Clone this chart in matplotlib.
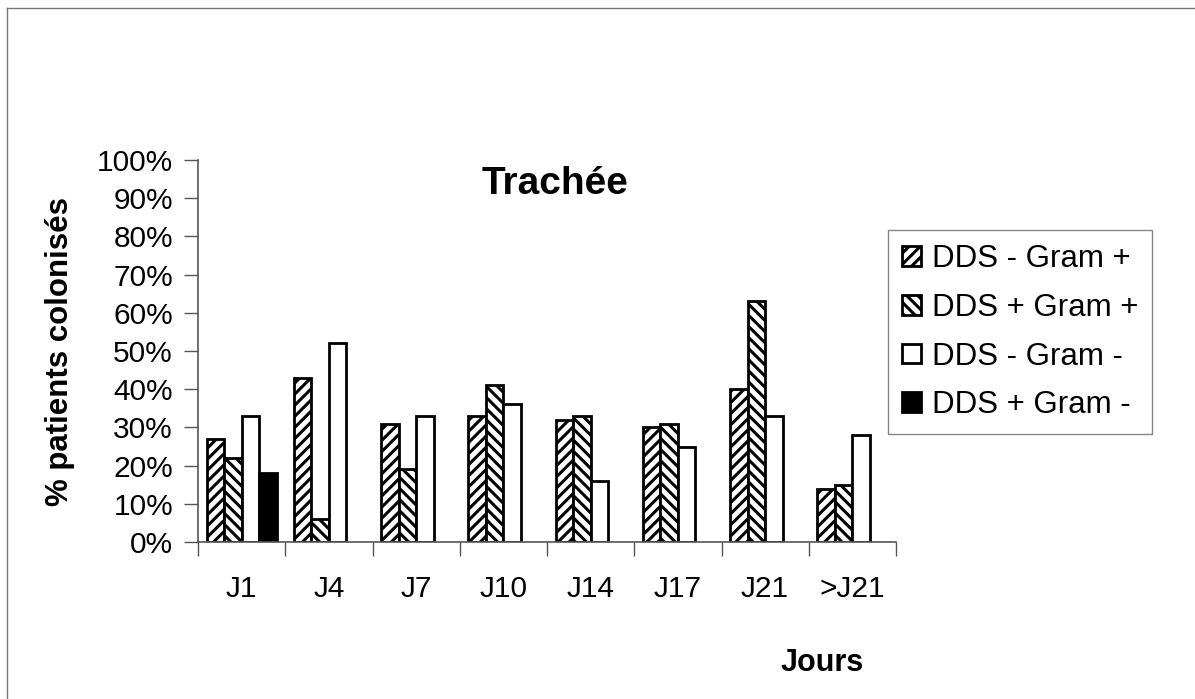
import numpy as np
import matplotlib
matplotlib.use("Agg")
import matplotlib.pyplot as plt
from matplotlib.ticker import PercentFormatter
from matplotlib.lines import Line2D

plt.rcParams['font.family'] = ['Liberation Sans', 'DejaVu Sans']
plt.rcParams['hatch.linewidth'] = 2.2

# donnees
jours = ["J1", "J4", "J7", "J10", "J14", "J17", "J21", ">J21"]
series = ["DDS - Gram +", "DDS + Gram +", "DDS - Gram -", "DDS + Gram -"]
dds_moins_gpos = [27, 43, 31, 33, 32, 30, 40, 14]
dds_plus_gpos = [22, 6, 19, 41, 33, 31, 63, 15]
dds_moins_gneg = [33, 52, 33, 36, 16, 25, 33, 28]
dds_plus_gneg = [18, 0, 0, 0, 0, 0, 0, 0]

valeurs = [dds_moins_gpos, dds_plus_gpos, dds_moins_gneg, dds_plus_gneg]
couleurs = ["white", "white", "white", "black"]
hachures = ["///", "\\\\\\", None, None]

W, H = 1195, 699
fig = plt.figure(figsize=(W / 100, H / 100), dpi=100)
ax = fig.add_axes([198 / W, 1 - 542 / H, (896 - 198) / W, (542 - 160) / H])

x = np.arange(len(jours))
lb = 1 / 5
handles = []
for i, (vals, c, h, nom) in enumerate(zip(valeurs, couleurs, hachures, series)):
    pos = x - 2 * lb + (i + 0.5) * lb
    v = np.array(vals) / 100
    bars = ax.bar(pos[v > 0], v[v > 0], width=lb, color=c, edgecolor="black",
                  hatch=h, linewidth=2, label=nom)
    handles.append(bars)

ax.set_xlim(-0.5, len(jours) - 0.5)
ax.set_ylim(0, 1)
ax.yaxis.set_major_formatter(PercentFormatter(1.0, decimals=0))
ax.set_yticks(np.arange(0, 1.01, 0.1))
ax.set_xticks(np.arange(-0.5, len(jours)), minor=False)
ax.set_xticklabels([])
ax.set_xticks(x, minor=True)
ax.set_xticklabels(jours, minor=True)
ax.tick_params(axis="x", which="minor", length=0, pad=24, labelsize=21.5)
ax.tick_params(axis="x", which="major", length=10, width=1, color="#555555", direction="out")
ax.tick_params(axis="y", length=10, width=1, color="#555555", pad=8, labelsize=21.5)
for s in ["top", "right"]:
    ax.spines[s].set_visible(False)
for s in ["left", "bottom"]:
    ax.spines[s].set_color("#555555")
    ax.spines[s].set_linewidth(1.2)

fig.text(555 / W, 1 - 184 / H, "Trachée", ha="center", va="center",
         fontsize=28, fontweight="bold")
fig.text(60 / W, 1 - 351 / H, "% patients colonisés", ha="center", va="center",
         rotation=90, fontsize=22.5, fontweight="bold")
fig.text(822 / W, 1 - 663 / H, "Jours", ha="center", va="center",
         fontsize=22, fontweight="bold")

leg = fig.legend(handles=handles, labels=series, loc="upper left",
                 bbox_to_anchor=(888 / W, 1 - 230 / H), fontsize=22.5,
                 frameon=True, fancybox=False, edgecolor="#666666",
                 handlelength=0.6, handleheight=0.6, handletextpad=0.35,
                 labelspacing=0.6, borderpad=0.45, borderaxespad=0)
leg.get_frame().set_linewidth(1)

# cadre de la page scannee (haut et gauche)
fig.add_artist(Line2D([7 / W, 7 / W], [0, 1 - 8 / H], color="#777777", lw=1))
fig.add_artist(Line2D([7 / W, 1], [1 - 8 / H, 1 - 8 / H], color="#777777", lw=1))

fig.savefig("out.png", dpi=100)
